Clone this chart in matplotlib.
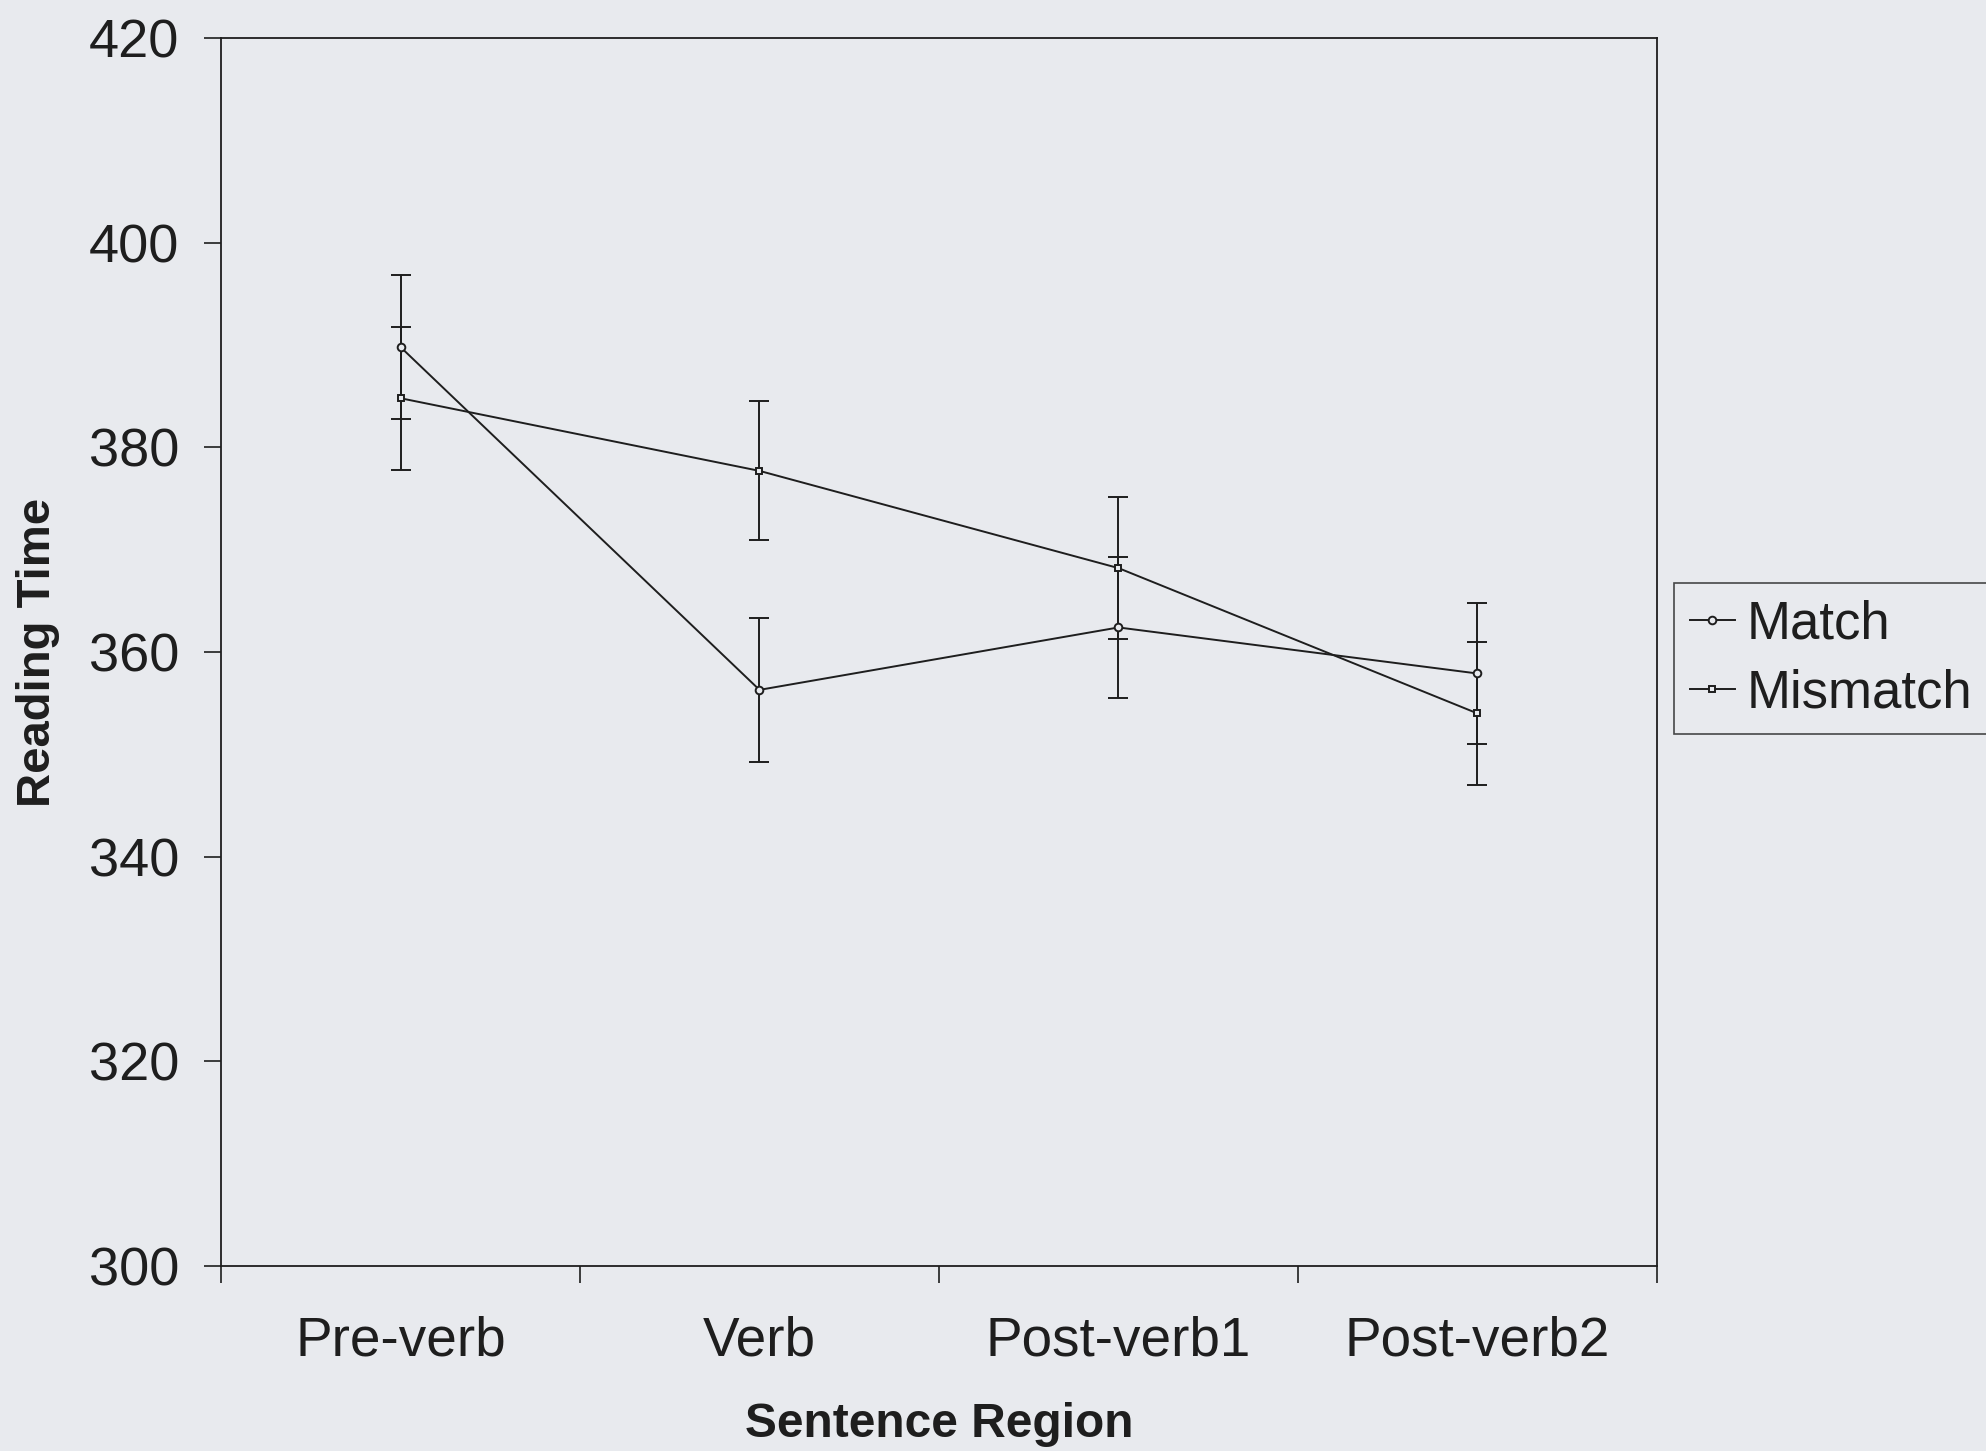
import numpy as np
import matplotlib
matplotlib.use("Agg")
from matplotlib import pyplot as plt

regions = ["Pre-verb", "Verb", "Post-verb1", "Post-verb2"]
match_rt = [389.8, 356.3, 362.4, 357.9]
match_se = [7.0, 7.0, 6.9, 6.9]
mismatch_rt = [384.8, 377.7, 368.2, 354.0]
mismatch_se = [7.0, 6.8, 6.9, 7.0]

bg = "#e8eaee"
ink = "#1e1e1e"

plt.rcParams["font.family"] = ["Liberation Sans", "DejaVu Sans"]

fig = plt.figure(figsize=(19.86, 14.51), dpi=100, facecolor=bg)
ax = fig.add_axes([0.1113, 0.1275, 0.723, 0.8463], facecolor=bg)

x = np.arange(1, len(regions) + 1)

ax.errorbar(x, match_rt, yerr=match_se, color=ink, lw=1.4, elinewidth=1.4,
            capsize=7, capthick=1.4, marker="o", ms=5.5, mfc=bg, mec=ink,
            mew=1.4, label="Match")
ax.errorbar(x, mismatch_rt, yerr=mismatch_se, color=ink, lw=1.4, elinewidth=1.4,
            capsize=7, capthick=1.4, marker="s", ms=5, mfc=bg, mec=ink,
            mew=1.4, label="Mismatch")

ax.set_xlim(0.5, len(regions) + 0.5)
ax.set_ylim(300, 420)
ax.set_yticks(range(300, 421, 20))

# ticks at region boundaries, labels at region centres
ax.set_xticks(np.arange(0.5, len(regions) + 1, 1.0))
ax.set_xticklabels([])
ax.set_xticks(x, minor=True)
ax.set_xticklabels(regions, minor=True)
ax.tick_params(axis="x", which="major", length=12, width=1.2, color=ink)
ax.tick_params(axis="x", which="minor", length=0, pad=36, labelsize=39.5,
               labelcolor=ink)
ax.tick_params(axis="y", length=12, width=1.2, color=ink, pad=18,
               labelsize=39, labelcolor=ink)

for s in ax.spines.values():
    s.set_color(ink)
    s.set_linewidth(1.3)

ax.set_xlabel("Sentence Region", fontsize=34.5, fontweight="bold", color=ink)
ax.set_ylabel("Reading Time", fontsize=34, fontweight="bold", color=ink)
ax.xaxis.set_label_coords(0.5, -0.111)
ax.yaxis.set_label_coords(-0.1125, 0.5)

handles, labels = ax.get_legend_handles_labels()
handles = [h[0] for h in handles]
leg = fig.legend(handles, labels, loc="upper left", bbox_to_anchor=(0.843, 0.598),
                 borderaxespad=0, fontsize=38, handlelength=0.85,
                 handletextpad=0.22, labelspacing=0.36, borderpad=0.3,
                 fancybox=False, frameon=True)
leg.get_frame().set_edgecolor(ink)
leg.get_frame().set_facecolor(bg)
leg.get_frame().set_linewidth(1.2)
for t in leg.get_texts():
    t.set_color(ink)

fig.savefig("out.png", dpi=100, facecolor=bg)
